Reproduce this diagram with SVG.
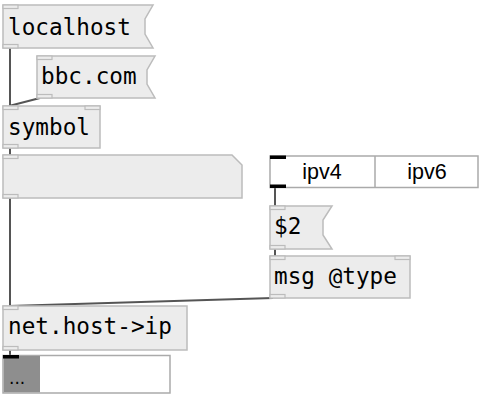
<svg xmlns="http://www.w3.org/2000/svg" width="480" height="400" viewBox="0 0 480 400">
<style>
.box{fill:#ececec;stroke:#bcbcbc;stroke-width:1.5}
.io{fill:#ececec;stroke:#bcbcbc;stroke-width:1.2}
.bio{fill:#000}
.t{font-family:"DejaVu Sans Mono",monospace;font-size:22.7px;fill:#000}
.s{font-family:"Liberation Sans",Arial,sans-serif;font-size:21.5px;fill:#000}
.w{stroke:#555;stroke-width:2;fill:none}
</style>
<rect width="480" height="400" fill="#fff"/>
<g id="connectors">
<line class="w" x1="10" y1="48" x2="10" y2="106"/>
<line class="w" x1="40" y1="98" x2="9" y2="106"/>
<line class="w" x1="10" y1="148" x2="10" y2="155"/>
<line class="w" x1="10" y1="198" x2="10" y2="306"/>
<line class="w" x1="275" y1="188" x2="275" y2="206"/>
<line class="w" x1="275" y1="249" x2="275" y2="256"/>
<line class="w" x1="273" y1="298" x2="9" y2="306"/>
<line class="w" x1="10" y1="350" x2="10" y2="355"/>
</g>
<g id="localhost">
<path class="box" d="M3,5 H153 L145,19 V34 L153,48 H3 Z"/>
<rect class="io" x="3" y="5" width="15" height="3.5"/>
<rect class="io" x="3" y="44.5" width="15" height="3.5"/>
<text class="t" x="8" y="35">localhost</text>
</g>
<g id="bbc">
<path class="box" d="M37,56 H155 L147,70 V84 L155,98 H37 Z"/>
<rect class="io" x="37" y="56" width="15" height="3.5"/>
<rect class="io" x="37" y="94.5" width="15" height="3.5"/>
<text class="t" x="41" y="84">bbc.com</text>
</g>
<g id="symbol">
<rect class="box" x="3" y="106" width="97" height="42"/>
<rect class="io" x="3" y="106" width="15" height="3.5"/>
<rect class="io" x="85" y="106" width="15" height="3.5"/>
<rect class="io" x="3" y="144.5" width="15" height="3.5"/>
<text class="t" x="8" y="135">symbol</text>
</g>
<g id="symbolbox">
<path class="box" d="M3,155 H232 L242,165 V198 H3 Z"/>
<rect class="io" x="3" y="155" width="15" height="3.5"/>
<rect class="io" x="3" y="194.5" width="15" height="3.5"/>
</g>
<g id="radio">
<rect x="270" y="156" width="208" height="31.5" fill="#fff" stroke="#aaa" stroke-width="1.5"/>
<line x1="375" y1="156" x2="375" y2="187.5" stroke="#aaa" stroke-width="1.5"/>
<rect class="bio" x="270" y="155.5" width="16" height="3.5"/>
<rect class="bio" x="270" y="184.5" width="16" height="3.5"/>
<text class="s" x="322" y="179" text-anchor="middle">ipv4</text>
<text class="s" x="427" y="179" text-anchor="middle">ipv6</text>
</g>
<g id="dollar2">
<path class="box" d="M270,206 H332 L323,220 V235 L332,249 H270 Z"/>
<rect class="io" x="270" y="206" width="15" height="3.5"/>
<rect class="io" x="270" y="245.5" width="15" height="3.5"/>
<text class="t" x="274" y="234">$2</text>
</g>
<g id="msgtype">
<rect class="box" x="270" y="256" width="140" height="42"/>
<rect class="io" x="270" y="256" width="15" height="3.5"/>
<rect class="io" x="395" y="256" width="15" height="3.5"/>
<rect class="io" x="270" y="294.5" width="15" height="3.5"/>
<text class="t" x="274" y="284">msg @type</text>
</g>
<g id="nethost">
<rect class="box" x="3" y="306" width="184" height="44"/>
<rect class="io" x="3" y="306" width="15" height="3.5"/>
<rect class="io" x="3" y="346.5" width="15" height="3.5"/>
<text class="t" x="8" y="334">net.host-&gt;ip</text>
</g>
<g id="output">
<rect x="3" y="355.5" width="167" height="37.5" fill="#fff" stroke="#aaa" stroke-width="1.5"/>
<rect x="3.75" y="356" width="36.25" height="36.25" fill="#8e8e8e"/>
<rect class="bio" x="3" y="355" width="16" height="3.5"/>
<text x="9" y="384" font-family="'DejaVu Sans',sans-serif" font-size="17" fill="#000">...</text>
</g>
</svg>
